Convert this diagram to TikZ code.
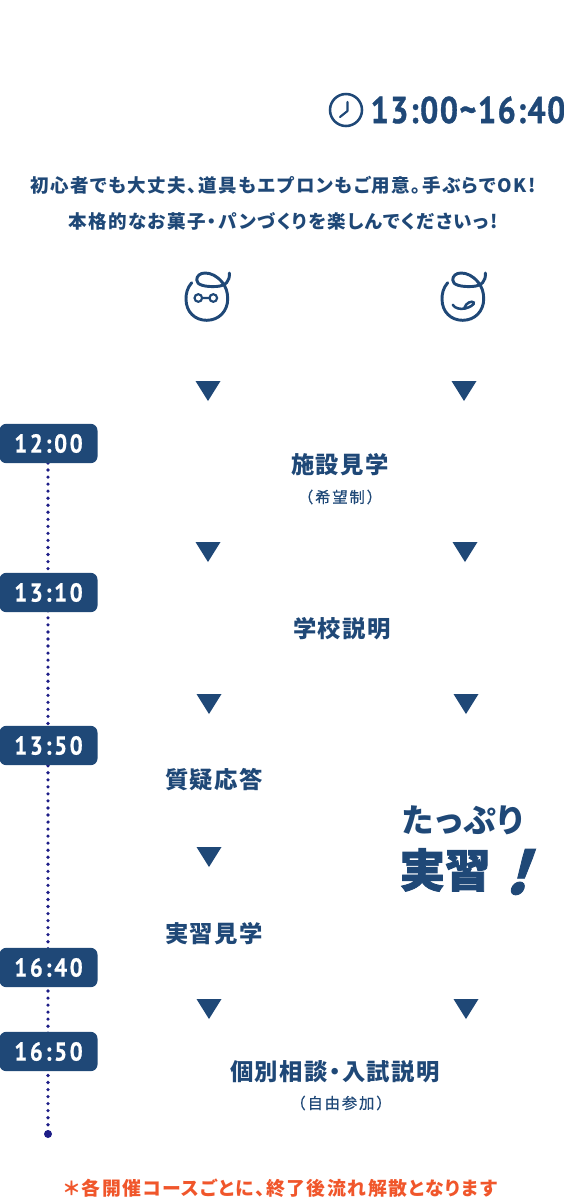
\documentclass[tikz,border=0pt]{standalone}
\usepackage{fontspec}
\setmainfont{Noto Sans CJK JP}
\newfontfamily\hourfont[FakeStretch=0.86,LetterSpace=4,BoldFeatures={FakeBold=1}]{PT Sans}
\newfontfamily\timefont[FakeStretch=0.88,LetterSpace=10,BoldFeatures={FakeBold=0.6}]{PT Sans}
\newfontfamily\leadfont[LetterSpace=8,RawFeature=+palt]{Noto Sans CJK JP}
\newfontfamily\itemfont[LetterSpace=6,RawFeature=+palt]{Noto Sans CJK JP}
\newfontfamily\subfont[LetterSpace=12,FakeBold=0.5]{Noto Sans CJK JP}
\newfontfamily\notefont[LetterSpace=8,RawFeature=+palt]{Noto Sans CJK JP}
\newfontfamily\heavyfont[BoldFeatures={FakeBold=2}]{Noto Sans CJK JP}
\newfontfamily\bangfont[FakeSlant=0.32,BoldFeatures={FakeBold=1.5,FakeSlant=0.32}]{Noto Sans CJK JP}
\definecolor{navy}{HTML}{1F4877}
\definecolor{dotblue}{HTML}{1D1D87}
\definecolor{notered}{HTML}{F0562B}
\tikzset{
  timebox/.style={fill=navy, text=white, rounded corners=5pt, minimum width=73.5pt, minimum height=29.5pt, inner sep=0pt, font=\timefont\fontsize{19.5}{20}\bfseries},
  itemlabel/.style={text=navy, inner sep=0pt, font=\itemfont\fontsize{17.5}{19}\bfseries},
  sublabel/.style={text=navy, inner sep=0pt, font=\subfont\fontsize{11.5}{14}\selectfont},
  leadlabel/.style={text=navy, inner sep=0pt, font=\leadfont\fontsize{13.9}{16}\bfseries},
  faceline/.style={draw=navy, line width=2.2pt, line cap=round, line join=round},
  tridown/.style={fill=navy}
}
\begin{document}
\begin{tikzpicture}[x=0.75pt, y=-0.75pt]
  \useasboundingbox (0,0) rectangle (564,1200);
  % Horaire
  \draw[navy, line width=1.9pt] (346,110) circle (16);
  \draw[navy, line width=1.6pt, line cap=round, line join=round] (347.5,102) -- (347.5,111) -- (340,117);
  \node[text=navy, inner sep=0pt, font=\hourfont\fontsize{28}{30}\bfseries] (hours) at (468,110) {13:00\textasciitilde 16:40};
  % Intro
  \node[leadlabel] (leadone) at (283,185) {初心者でも大丈夫、道具もエプロンもご用意。手ぶらでOK!};
  \node[leadlabel] (leadtwo) at (283,221) {本格的なお菓子・パンづくりを楽しんでくださいっ!};
  % Visages
  \foreach \fx in {0,256} {
    \draw[faceline, xshift=\fx*0.75pt] (191.7,282.7) .. controls (187,288) and (186,294) .. (186,299) .. controls (186,312) and (195,320.3) .. (206.7,320.3) .. controls (219,320.3) and (227.7,311) .. (227.7,299) .. controls (227.7,292) and (226,287) .. (222,282) .. controls (217,276) and (211,273) .. (205,273) .. controls (200,273) and (196.7,276) .. (196.7,280) .. controls (196.7,285) and (205,287) .. (216,286.5) .. controls (226,286) and (230,281) .. (229.3,273);
  }
  \draw[navy, line width=1.6pt] (198.3,298) circle (3.8) (213.3,298) circle (3.8) (202.1,298) -- (209.5,298);
  \draw[navy, line width=1.9pt, line cap=round] (452.7,304.7) .. controls (455,308.5) and (460,309.5) .. (465,308.5) .. controls (470,307.5) and (475,304) .. (473.7,302.5) .. controls (472,300.5) and (466,302.5) .. (464.3,308);
  % Triangles
  \foreach \tx/\ty in {208/381, 464/381, 208/542, 465/542, 209/694, 466/694, 209/847, 209/999, 466/999}
    \fill[tridown] (\tx-12.5,\ty) -- (\tx+12.5,\ty) -- (\tx,\ty+20) -- cycle;
  % Heures
  \coordinate (lineend) at (48,1134);
  \draw[dotblue, line width=2.7pt, line cap=round, dash pattern=on 0pt off 5.28pt] (48,463) -- (lineend);
  \fill[dotblue] (lineend) circle (4);
  \node[timebox] (tone) at (48.5,443.5) {12:00};
  \node[timebox] (ttwo) at (48.5,592.5) {13:10};
  \node[timebox] (tthree) at (48.5,745.5) {13:50};
  \node[timebox] (tfour) at (48.5,967.5) {16:40};
  \node[timebox] (tfive) at (48.5,1051.5) {16:50};
  % Etapes
  \node[itemlabel] (visit) at (340,465) {施設見学};
  \node[sublabel] (visitnote) at (340,497) {（希望制）};
  \node[itemlabel] (school) at (342,629) {学校説明};
  \node[itemlabel] (qanda) at (214,780) {質疑応答};
  \node[itemlabel] (watch) at (214,934) {実習見学};
  \node[itemlabel] (consult) at (335,1072) {個別相談・入試説明};
  \node[sublabel] (consultnote) at (341,1103) {（自由参加）};
  % Grand titre
  \node[text=navy, inner sep=0pt, font=\itemfont\fontsize{24.5}{26}\bfseries] (plenty) at (463,820) {たっぷり};
  \node[text=navy, inner sep=0pt, font=\heavyfont\fontsize{34}{36}\bfseries] (practice) at (445,870) {実習};
  \node[text=navy, inner sep=0pt, font=\bangfont\fontsize{44}{46}\bfseries] (bang) at (516,872) {!};
  % Note
  \node[text=notered, inner sep=0pt, font=\notefont\fontsize{14.15}{16}\bfseries] (footnote) at (281,1188) {＊各開催コースごとに、終了後流れ解散となります};
\end{tikzpicture}
\end{document}
